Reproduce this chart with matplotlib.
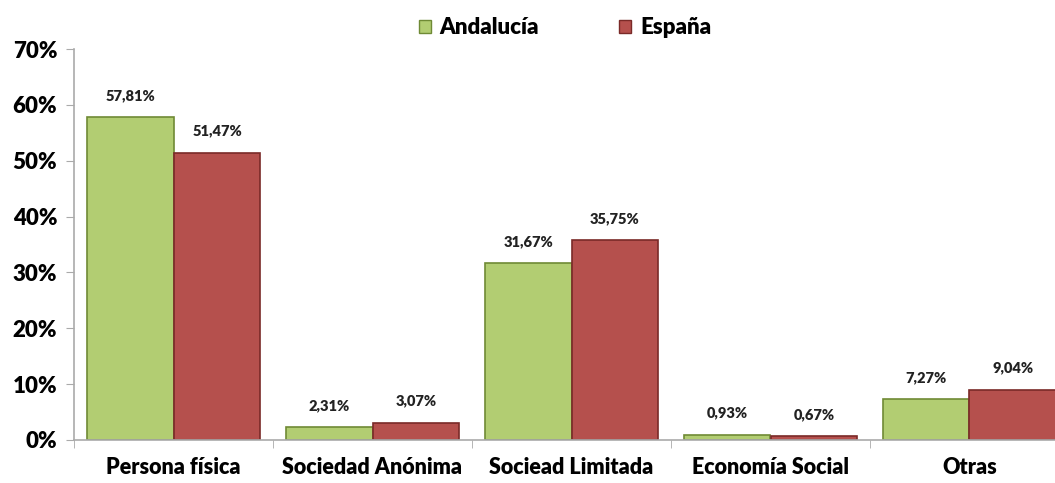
import numpy as np
import matplotlib
matplotlib.use("Agg")
import matplotlib.pyplot as plt
from matplotlib.patches import Patch

plt.rcParams['font.family'] = ['Lato', 'DejaVu Sans']

categories = ["Persona física", "Sociedad Anónima", "Sociead Limitada", "Economía Social", "Otras"]
andalucia = [57.81, 2.31, 31.67, 0.93, 7.27]
espana = [51.47, 3.07, 35.75, 0.67, 9.04]
series_names = ["Andalucía", "España"]

green = "#b2cd72"
green_edge = "#6f8a35"
red = "#b5504d"
red_edge = "#7a2a28"

fig = plt.figure(figsize=(10.55, 4.83), dpi=100)
ax = fig.add_axes([74/1055, 1-440/483, 995/1055, 391/483])

x = np.arange(len(categories))
w = 0.437
b1 = ax.bar(x - w/2, andalucia, w, color=green, edgecolor=green_edge, linewidth=1.2, label=series_names[0])
b2 = ax.bar(x + w/2, espana, w, color=red, edgecolor=red_edge, linewidth=1.2, label=series_names[1])

def fmt(v):
    return f"{v:.2f}".replace(".", ",") + "%"

for bars, vals in [(b1, andalucia), (b2, espana)]:
    for r, v in zip(bars, vals):
        ax.annotate(fmt(v), (r.get_x() + r.get_width()/2, v), xytext=(0, 11),
                    textcoords="offset points", ha="center", va="bottom",
                    fontsize=10.5, fontweight="heavy", color="#222222")

ax.set_xlim(-0.5, len(categories) - 0.5)
ax.set_ylim(0, 70)
ax.set_yticks(range(0, 71, 10))
ax.set_yticklabels([f"{t}%" for t in range(0, 71, 10)], fontsize=16, fontweight="heavy")
ax.set_xticks(x)
ax.set_xticklabels(categories, fontsize=15.5, fontweight="heavy")
ax.set_xticks(np.arange(-0.5, len(categories)), minor=True)
ax.tick_params(axis="x", which="major", length=0, pad=12)
ax.tick_params(axis="x", which="minor", length=6, color="#aaaaaa", direction="out")
ax.tick_params(axis="y", length=6, color="#aaaaaa", direction="out", pad=6)

for s in ["top", "right"]:
    ax.spines[s].set_visible(False)
for s in ["left", "bottom"]:
    ax.spines[s].set_color("#aaaaaa")
    ax.spines[s].set_linewidth(1.2)

handles = [Patch(facecolor=green, edgecolor=green_edge), Patch(facecolor=red, edgecolor=red_edge)]
fig.legend(handles, series_names, loc="center", bbox_to_anchor=(565/1055, 1-28/483), ncol=2,
           frameon=False, prop={"weight": "heavy", "size": 16}, handlelength=0.55, handleheight=0.55,
           handletextpad=0.4, columnspacing=3.6)

fig.savefig("out.png", dpi=100)
